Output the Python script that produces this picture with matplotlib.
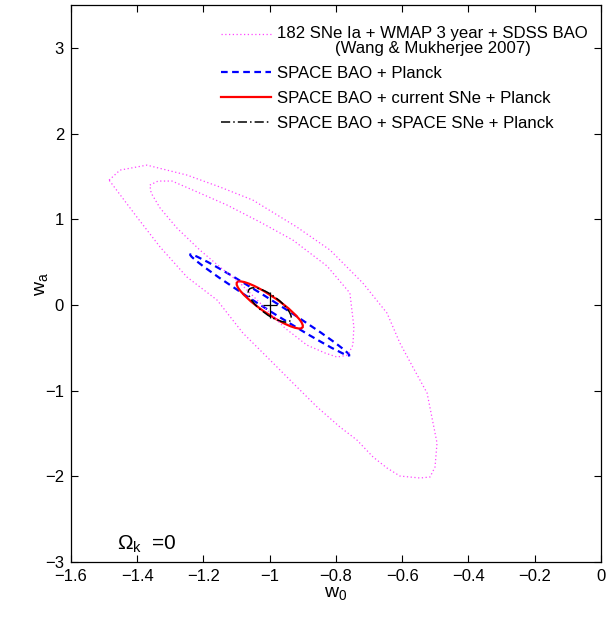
import numpy as np
import matplotlib
matplotlib.use("Agg")
import matplotlib.pyplot as plt
from matplotlib.patches import Ellipse
from matplotlib.path import Path
from matplotlib.ticker import FuncFormatter
from matplotlib.legend_handler import HandlerLine2D

plt.rcParams['font.family'] = ['Liberation Sans', 'DejaVu Sans']
plt.rcParams['mathtext.fontset'] = 'custom'
plt.rcParams['mathtext.rm'] = 'Liberation Sans'
plt.rcParams['mathtext.it'] = 'Liberation Sans'

# --- data ---
# Wang & Mukherjee 2007 contours (outer = 95%, inner = 68%)
outer_w0 = [-1.485, -1.452, -1.371, -1.250, -1.150, -1.051, -0.918, -0.818, -0.719,
            -0.646, -0.607, -0.568, -0.525, -0.507, -0.495, -0.501, -0.516, -0.546,
            -0.607, -0.646, -0.688, -0.737, -0.788, -0.857, -0.930, -0.999, -1.081,
            -1.159, -1.250, -1.331, -1.401, -1.485]
outer_wa = [1.457, 1.574, 1.632, 1.516, 1.376, 1.224, 0.909, 0.641, 0.256,
            -0.095, -0.445, -0.725, -1.028, -1.378, -1.611, -1.891, -2.008, -2.020,
            -1.997, -1.903, -1.775, -1.576, -1.425, -1.191, -0.911, -0.643, -0.328,
            0.057, 0.326, 0.676, 1.026, 1.457]
inner_w0 = [-1.362, -1.337, -1.295, -1.232, -1.129, -1.029, -0.930, -0.827, -0.758,
            -0.746, -0.749, -0.764, -0.797, -0.833, -0.888, -0.954, -1.023, -1.090,
            -1.150, -1.211, -1.280, -1.331, -1.358, -1.362]
inner_wa = [1.399, 1.446, 1.446, 1.341, 1.166, 0.967, 0.757, 0.454, 0.139,
            -0.258, -0.468, -0.585, -0.608, -0.561, -0.468, -0.270, -0.001, 0.256,
            0.442, 0.641, 0.897, 1.131, 1.306, 1.399]

# fiducial model
fid_w0 = -1.0
fid_wa = 0.0

# forecast ellipses: half extent in w0, half extent in wa, correlation
ell_names = ['SPACE BAO + Planck',
             'SPACE BAO + current SNe + Planck',
             'SPACE BAO + SPACE SNe + Planck']
ell_dw0 = [0.240, 0.100, 0.065]
ell_dwa = [0.590, 0.275, 0.200]
ell_rho = [-0.993, -0.90, -0.75]
ell_colors = ['#0000ff', '#ff0000', 'black']
ell_styles = [(0, (3, 2)), '-', (0, (6, 2, 1, 2))]
ell_widths = [1.6, 1.6, 1.1]

x_ticks = [-1.6, -1.4, -1.2, -1.0, -0.8, -0.6, -0.4, -0.2, 0.0]
y_ticks = [-3, -2, -1, 0, 1, 2, 3]

wm_label = '182 SNe Ia + WMAP 3 year + SDSS BAO\n(Wang & Mukherjee 2007)'
magenta = '#ff44ff'


def fmt(v, pos):
    s = '%g' % round(v, 6)
    if s == '-0':
        s = '0'
    return s.replace('-', '\u2212')


class FirstLineHandler(HandlerLine2D):
    # put the sample next to the first line of a two-line label
    def create_artists(self, *args, **kwargs):
        arts = super().create_artists(*args, **kwargs)
        for a in arts:
            a.set_ydata(np.asarray(a.get_ydata()) + 5.4)
        return arts


fig = plt.figure(figsize=(6.13, 6.35), dpi=100)
ax = fig.add_axes([0.1158, 0.115, 0.8646, 0.877])

wm_line, = ax.plot(outer_w0, outer_wa, color=magenta, lw=0.9, ls=(0, (1, 2)),
                   label=wm_label)
ax.plot(inner_w0, inner_wa, color=magenta, lw=0.9, ls=(0, (1, 2)))

for name, dx, dy, rho, c, ls, lw in zip(ell_names, ell_dw0, ell_dwa, ell_rho,
                                         ell_colors, ell_styles, ell_widths):
    cov = np.array([[dx**2, rho*dx*dy], [rho*dx*dy, dy**2]])
    vals, vecs = np.linalg.eigh(cov)
    ang = np.degrees(np.arctan2(vecs[1, 1], vecs[0, 1]))
    e = Ellipse((fid_w0, fid_wa), 2*np.sqrt(vals[1]), 2*np.sqrt(vals[0]), angle=ang,
                fill=False, edgecolor=c, linestyle=ls, linewidth=lw)
    ax.add_patch(e)
    ax.plot([], [], color=c, ls=ls, lw=lw, label=name)

# fiducial cross (taller than wide)
cross = Path([(-0.55, 0), (0.55, 0), (0, -1), (0, 1)],
             [Path.MOVETO, Path.LINETO, Path.MOVETO, Path.LINETO])
ax.plot([fid_w0], [fid_wa], marker=cross, markersize=19, color='black',
        markeredgewidth=0.9, ls='none')

ax.set_xlim(-1.6, 0)
ax.set_ylim(-3, 3.5)
ax.set_xticks(x_ticks)
ax.set_yticks(y_ticks)
ax.xaxis.set_major_formatter(FuncFormatter(fmt))
ax.yaxis.set_major_formatter(FuncFormatter(fmt))
ax.tick_params(direction='in', top=True, right=True, length=5, width=0.8,
               labelsize=12, pad=5)
for s in ax.spines.values():
    s.set_linewidth(0.9)

ax.set_xlabel(r'$\mathrm{w_0}$', fontsize=14, labelpad=1)
ax.set_ylabel(r'$\mathrm{w_a}$', fontsize=14)
ax.yaxis.set_label_coords(-0.04, 0.5)

ax.text(-1.46, -2.8, r'$\Omega_{\mathrm{k}}\;$ =0', fontsize=15, va='center', ha='left')

leg = ax.legend(loc='upper left', bbox_to_anchor=(0.283, 0.962), frameon=False,
                fontsize=12.1, handlelength=3.0, handletextpad=0.35,
                labelspacing=0.6, borderpad=0, borderaxespad=0,
                handler_map={wm_line: FirstLineHandler()})
leg.get_texts()[0].set_multialignment('center')
leg.get_texts()[0].set_linespacing(0.95)

fig.savefig('out.png', dpi=100)
